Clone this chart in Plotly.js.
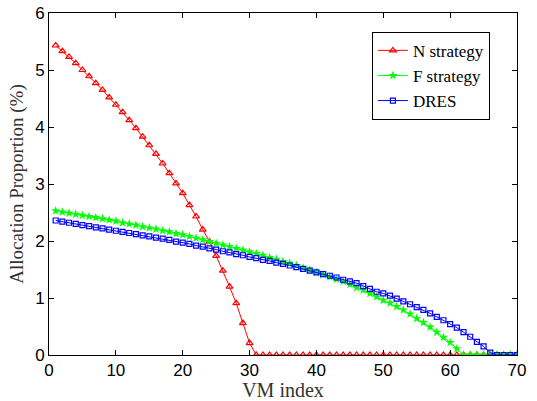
<!DOCTYPE html>
<html>
<head>
<meta charset="utf-8">
<script src="https://cdn.plot.ly/plotly-3.0.1.min.js"></script>
<style>html,body{margin:0;padding:0;background:#fff;}#chart{width:537px;height:401px;}</style>
</head>
<body>
<div id="chart"></div>
<script>
// VM index 1..70
const vmIndex = [1,2,3,4,5,6,7,8,9,10,11,12,13,14,15,16,17,18,19,20,21,22,23,24,25,26,27,28,29,30,31,32,33,34,35,36,37,38,39,40,41,42,43,44,45,46,47,48,49,50,51,52,53,54,55,56,57,58,59,60,61,62,63,64,65,66,67,68,69,70];

const nStrategy = [5.43,5.33,5.23,5.12,5.00,4.89,4.77,4.65,4.52,4.39,4.26,4.12,3.98,3.83,3.68,3.53,3.36,3.19,3.01,2.84,2.63,2.43,2.20,1.99,1.74,1.48,1.20,0.91,0.56,0.21,
  0,0,0,0,0,0,0,0,0,0,0,0,0,0,0,0,0,0,0,0,0,0,0,0,0,0,0,0,0,0,0,0,0,0,0,0,0,0,0,0];

const fStrategy = [2.53,2.51,2.49,2.47,2.45,2.43,2.41,2.39,2.37,2.35,2.32,2.30,2.28,2.25,2.23,2.21,2.18,2.16,2.13,2.11,2.08,2.05,2.02,1.99,1.96,1.93,1.90,1.87,1.84,1.81,1.78,1.75,1.71,1.68,1.64,1.61,1.57,1.53,1.49,1.45,1.41,1.37,1.33,1.29,1.24,1.18,1.14,1.08,1.02,0.96,0.91,0.85,0.79,0.72,0.64,0.57,0.49,0.40,0.31,0.22,0.11,0,0,0,0,0,0,0,0,0];

const dres = [2.36,2.34,2.32,2.30,2.28,2.26,2.24,2.22,2.20,2.18,2.16,2.14,2.12,2.10,2.08,2.06,2.04,2.02,1.99,1.97,1.95,1.92,1.90,1.87,1.85,1.82,1.80,1.77,1.75,1.72,1.70,1.67,1.65,1.62,1.60,1.57,1.54,1.51,1.48,1.45,1.42,1.39,1.36,1.32,1.29,1.26,1.21,1.16,1.11,1.08,1.04,0.99,0.94,0.89,0.84,0.79,0.73,0.67,0.61,0.54,0.48,0.40,0.32,0.23,0.15,0.04,0,0,0,0];

const seriesNames = ['N strategy','F strategy','DRES'];
const xTicks = [0,10,20,30,40,50,60,70];
const yTicks = [0,1,2,3,4,5,6];

const traces = [
  {x: vmIndex, y: nStrategy, name: seriesNames[0], type:'scatter', mode:'lines+markers',
   line:{color:'#ff0000', width:1}, marker:{symbol:'triangle-up-open', size:6, color:'#ff0000', line:{width:1.2, color:'#ff0000'}}},
  {x: vmIndex, y: fStrategy, name: seriesNames[1], type:'scatter', mode:'lines+markers',
   line:{color:'#00ff00', width:1}, marker:{symbol:'star', size:7, color:'#00ff00', line:{width:0}}},
  {x: vmIndex, y: dres, name: seriesNames[2], type:'scatter', mode:'lines+markers',
   line:{color:'#0000ff', width:1}, marker:{symbol:'square-open', size:5, color:'#0000ff', line:{width:1.2, color:'#0000ff'}}}
];

const axisCommon = {
  showgrid:false, zeroline:false, showline:true, linecolor:'#000', linewidth:1,
  mirror:'ticks', ticks:'inside', ticklen:5, tickwidth:1, tickcolor:'#000',
  tickfont:{family:'Liberation Sans, Arial, sans-serif', size:17, color:'#000'}
};

const layout = {
  width:537, height:401,
  margin:{l:49, r:20, t:13, b:46},
  paper_bgcolor:'#fff', plot_bgcolor:'#fff',
  showlegend:true,
  legend:{x:0.69, y:0.945, xanchor:'left', yanchor:'top', bordercolor:'#000', borderwidth:1, bgcolor:'#fff',
    font:{family:'Liberation Serif, Times New Roman, serif', size:17, color:'#000'}, tracegroupgap:0, itemwidth:30},
  xaxis: Object.assign({}, axisCommon, {range:[0,70], tickvals:xTicks, ticktext:xTicks.map(String),
    title:{text:'VM index', standoff:6, font:{family:'Liberation Serif, Times New Roman, serif', size:20, color:'#333'}}}),
  yaxis: Object.assign({}, axisCommon, {range:[0,6], tickvals:yTicks, ticktext:yTicks.map(String),
    title:{text:'Allocation Proportion (%)', standoff:6, font:{family:'Liberation Serif, Times New Roman, serif', size:19, color:'#333'}}})
};

Plotly.newPlot('chart', traces, layout, {displayModeBar:false, staticPlot:true});
</script>
</body>
</html>
